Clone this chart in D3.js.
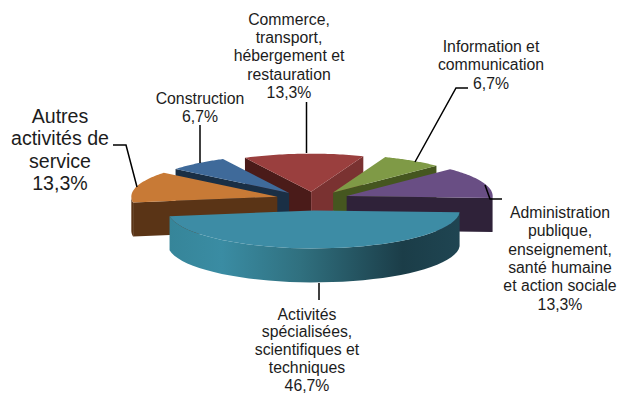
<!DOCTYPE html>
<html>
<head>
<meta charset="utf-8">
<script src="https://cdn.jsdelivr.net/npm/d3@7"></script>
<style>
  html, body { margin: 0; padding: 0; background: #fff; }
  svg { display: block; }
  text { font-family: "Liberation Sans", Arial, sans-serif; fill: #1c1c1c; text-anchor: middle; }
</style>
</head>
<body>
<div class="canvas"></div>
<script>
const width = 620;
const height = 394;

// Data
const categories = [
  "Commerce, transport, hébergement et restauration",
  "Information et communication",
  "Administration publique, enseignement, santé humaine et action sociale",
  "Activités spécialisées, scientifiques et techniques",
  "Autres activités de service",
  "Construction"
];
const values = [13.3, 6.7, 13.3, 46.7, 13.3, 6.7];
const labelLines = [
  ["Commerce,", "transport,", "hébergement et", "restauration"],
  ["Information et", "communication"],
  ["Administration", "publique,", "enseignement,", "santé humaine", "et action sociale"],
  ["Activités", "spécialisées,", "scientifiques et", "techniques"],
  ["Autres", "activités de", "service"],
  ["Construction"]
];

// Colours
const topColors = ["#9a3f3e", "#7f9a46", "#694e84", "#3d8ca5", "#c87a36", "#3f6a9a"];
const startSideColors = ["#4a1b19", null, null, null, "#5a3416", "#1a2f45"];
const endSideColors = ["#7a3231", "#45561f", "#2f2239", null, null, null];

// Layout
const rx = 146;
const ry = 38;
const depth = 34;
const rotation = (-3 * Math.PI) / 180;
const explode = [0.247, 0.253, 0.247, 0.43, 0.253, 0.26];
const explodeTilt = 0.73;
const tealNudge = -2.5; // the big slice sits a little left of its radial offset
const labelLayout = [
  { x: 289, y: 25, step: 18.2, size: 15.8 },
  { x: 491, y: 52, step: 18.3, size: 15.8 },
  { x: 560, y: 218, step: 18.3, size: 15.8 },
  { x: 307, y: 319.5, step: 17.9, size: 15.8 },
  { x: 60, y: 123, step: 22.3, size: 19.6 },
  { x: 200, y: 104, step: 18, size: 15.8 }
];
const leaders = [
  [[306.5, 102], [306.5, 153]],
  [[468, 88], [456, 88], [415, 162]],
  [[485, 185], [490, 199], [502, 199]],
  [[319, 283], [319, 300]],
  [[113, 145], [126, 145], [137, 187]],
  [[200, 125], [200, 163]]
];

// Scales map the unit ellipse of the tilted pie to pixels
const xScale = d3.scaleLinear().domain([-1, 1]).range([313 - rx, 313 + rx]);
const yScale = d3.scaleLinear().domain([-1, 1]).range([198.5 - ry, 198.5 + ry]);

const firstHalf = (values[0] / 100) * Math.PI;
const pie = d3
  .pie()
  .sort(null)
  .startAngle(rotation - firstHalf)
  .endAngle(rotation - firstHalf + 2 * Math.PI);

const slices = pie(values).map((d, i) => {
  const mid = (d.startAngle + d.endAngle) / 2;
  return {
    ...d,
    i,
    mid,
    ox: explode[i] * Math.sin(mid) + (i === 3 ? tealNudge / rx : 0),
    oy: -explode[i] * explodeTilt * Math.cos(mid)
  };
});

// point on the slice, r = 0 apex, r = 1 rim, drop = pixels below the top face
const project = (s, angle, r, drop = 0) => [
  xScale(s.ox + r * Math.sin(angle)),
  yScale(s.oy - r * Math.cos(angle)) + drop
];
const line = d3.line();

const arcPoints = (s, a0, a1, drop = 0) =>
  d3.range(0, 41).map(k => project(s, a0 + ((a1 - a0) * k) / 40, 1, drop));

const svg = d3
  .select(".canvas")
  .append("svg")
  .attr("width", width)
  .attr("height", height);

// Gradient on the wall of the big slice
const grad = svg
  .append("defs")
  .append("linearGradient")
  .attr("id", "wall")
  .attr("gradientUnits", "userSpaceOnUse")
  .attr("x1", 169)
  .attr("x2", 461)
  .attr("y1", 0)
  .attr("y2", 0);
grad.append("stop").attr("offset", 0).attr("stop-color", "#368599");
grad.append("stop").attr("offset", 0.18).attr("stop-color", "#3a8ca3");
grad.append("stop").attr("offset", 0.45).attr("stop-color", "#30707f");
grad.append("stop").attr("offset", 0.8).attr("stop-color", "#1b3d48");
grad.append("stop").attr("offset", 1).attr("stop-color", "#1f4552");

// Back slices first
const order = slices.slice().sort((a, b) => Math.cos(b.mid) - Math.cos(a.mid));

order.forEach(s => {
  const g = svg.append("g").attr("class", "slice");
  const a0 = s.startAngle;
  const a1 = s.endAngle;

  const face = (angle, color) => {
    const pts = [
      project(s, angle, 0),
      project(s, angle, 1),
      project(s, angle, 1, depth),
      project(s, angle, 0, depth)
    ];
    g.append("path").attr("d", line(pts) + "Z").attr("fill", color);
  };
  if (startSideColors[s.i]) face(a0, startSideColors[s.i]);
  if (endSideColors[s.i]) face(a1, endSideColors[s.i]);

  // outer wall, only the part facing the viewer
  const w0 = Math.max(a0, Math.PI / 2);
  const w1 = Math.min(a1, (3 * Math.PI) / 2);
  if (w1 > w0) {
    const wallColor = s.i === 3 ? "url(#wall)" : endSideColors[s.i] || startSideColors[s.i];
    const pts = arcPoints(s, w0, w1).concat(arcPoints(s, w1, w0, depth));
    g.append("path").attr("d", line(pts) + "Z").attr("fill", wallColor);
  }

  // top face
  const top = [project(s, a0, 0)].concat(arcPoints(s, a0, a1));
  g.append("path").attr("d", line(top) + "Z").attr("fill", topColors[s.i]);
});

// Leader lines
svg
  .selectAll(".leader")
  .data(leaders)
  .enter()
  .append("path")
  .attr("class", "leader")
  .attr("d", d => line(d))
  .attr("fill", "none")
  .attr("stroke", "#000")
  .attr("stroke-width", 1.5);

// Labels
categories.forEach((name, i) => {
  const pos = labelLayout[i];
  const t = svg
    .append("text")
    .attr("data-category", name)
    .attr("font-size", pos.size);
  labelLines[i].concat(values[i].toFixed(1).replace(".", ",") + "%").forEach((txt, k) => {
    t.append("tspan")
      .attr("x", pos.x)
      .attr("y", pos.y + k * pos.step)
      .text(txt);
  });
});
</script>
</body>
</html>
